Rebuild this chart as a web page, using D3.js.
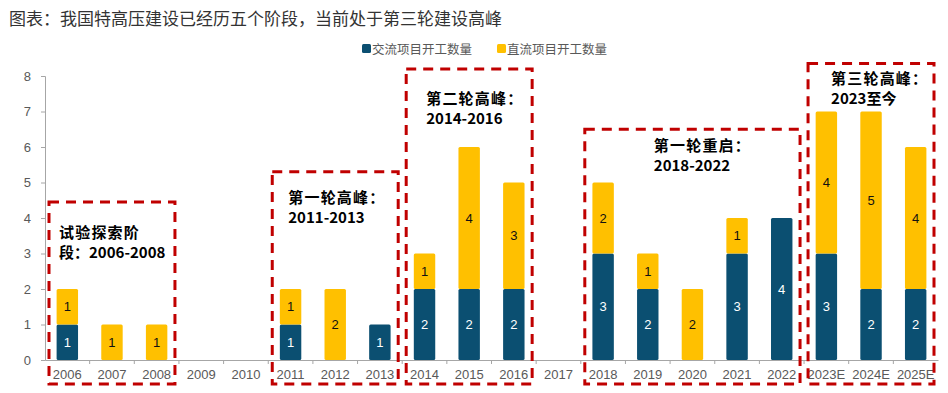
<!DOCTYPE html>
<html>
<head>
<meta charset="utf-8">
<script src="https://cdn.jsdelivr.net/npm/d3@7"></script>
<style>
    body { margin: 0; background: #fff; font-family: "Noto Sans CJK SC", "Liberation Sans", sans-serif; }
    #chart-area { width: 948px; height: 393px; }
</style>
</head>
<body>
<div id="chart-area"></div>
<script>
// data
let years = ["2006", "2007", "2008", "2009", "2010", "2011", "2012", "2013", "2014", "2015",
    "2016", "2017", "2018", "2019", "2020", "2021", "2022", "2023E", "2024E", "2025E"];
let acProjects = [1, 0, 0, 0, 0, 1, 0, 1, 2, 2, 2, 0, 3, 2, 0, 3, 4, 3, 2, 2];
let dcProjects = [1, 1, 1, 0, 0, 1, 2, 0, 1, 4, 3, 0, 2, 1, 2, 1, 0, 4, 5, 4];
let seriesNames = ["交流项目开工数量", "直流项目开工数量"];
let yTicks = [0, 1, 2, 3, 4, 5, 6, 7, 8];

// phases: first/last year covered by the dashed box, top of the box (in y units), text lines
let phaseStart = ["2006", "2011", "2014", "2018", "2023E"];
let phaseEnd = ["2008", "2013", "2016", "2022", "2025E"];
let phaseTop = [4.45, 5.3, 8.2, 6.5, 8.35];
let phaseText = [
    ["试验探索阶", "段：2006-2008"],
    ["第一轮高峰：", "2011-2013"],
    ["第二轮高峰：", "2014-2016"],
    ["第一轮重启：", "2018-2022"],
    ["第三轮高峰：", "2023至今"]
];

class PhaseBarVis {
    constructor(_parentElement) {
        this.parentElement = _parentElement;
        this.initVis();
    }

    initVis() {
        let vis = this;

        vis.margin = { top: 76, right: 10, bottom: 33, left: 45 };
        vis.width = 938 - vis.margin.left;
        vis.height = 360 - vis.margin.top;

        vis.svg = d3.select("#" + vis.parentElement).append("svg")
            .attr("width", 948)
            .attr("height", 393);

        // title
        vis.svg.append("text")
            .attr("x", 9)
            .attr("y", 25)
            .attr("font-size", 17)
            .attr("fill", "#333")
            .text("图表：我国特高压建设已经历五个阶段，当前处于第三轮建设高峰");

        vis.g = vis.svg.append("g")
            .attr("transform", "translate(" + vis.margin.left + "," + vis.margin.top + ")");

        vis.x = d3.scaleBand().domain(years).range([0, vis.width]).paddingInner(0.52).paddingOuter(0.26);
        vis.y = d3.scaleLinear().domain([0, 8]).range([vis.height, 0]);
        vis.color = d3.scaleOrdinal().domain(seriesNames).range(["#0B4F71", "#FFC000"]);

        vis.wrangleData();
    }

    wrangleData() {
        let vis = this;

        vis.displayData = years.map((yr, i) => ({ year: yr, ac: acProjects[i], dc: dcProjects[i] }));
        vis.stacked = d3.stack().keys(["ac", "dc"])(vis.displayData);

        vis.updateVis();
    }

    updateVis() {
        let vis = this;
        let step = vis.x.step();
        let grey = "#595959";

        // y axis
        let yAxis = vis.g.append("g")
            .call(d3.axisLeft(vis.y).tickValues(yTicks).tickSize(4).tickPadding(10));
        yAxis.select(".domain").attr("stroke", "#a6a6a6");
        yAxis.selectAll(".tick line").attr("stroke", "#a6a6a6");
        yAxis.selectAll("text").attr("font-size", 13).attr("fill", grey)
            .attr("font-family", "Liberation Sans, Arial, sans-serif");

        // x axis with ticks on the category boundaries
        let xAxis = vis.g.append("g")
            .attr("transform", "translate(0," + vis.height + ")")
            .call(d3.axisBottom(vis.x).tickSize(0).tickPadding(10));
        xAxis.select(".domain").attr("stroke", "#a6a6a6");
        xAxis.selectAll("text").attr("font-size", 13).attr("fill", grey)
            .attr("font-family", "Liberation Sans, Arial, sans-serif");
        xAxis.selectAll(".bound")
            .data(years.slice(1))
            .enter().append("line")
            .attr("x1", d => vis.x(d) - (step - vis.x.bandwidth()) / 2)
            .attr("x2", d => vis.x(d) - (step - vis.x.bandwidth()) / 2)
            .attr("y1", 0).attr("y2", 4)
            .attr("stroke", "#a6a6a6");

        // stacked bars
        let layers = vis.g.selectAll(".layer")
            .data(vis.stacked)
            .enter().append("g")
            .attr("class", "layer")
            .attr("fill", (d, i) => vis.color(seriesNames[i]));

        layers.selectAll("rect")
            .data(d => d.filter(s => s[1] > s[0]))
            .enter().append("rect")
            .attr("x", d => vis.x(d.data.year))
            .attr("y", d => vis.y(d[1]))
            .attr("width", vis.x.bandwidth())
            .attr("height", d => vis.y(d[0]) - vis.y(d[1]))
            .attr("rx", 1.5);

        layers.selectAll(".val")
            .data((d, i) => d.filter(s => s[1] > s[0]).map(s => ({ s: s, idx: i })))
            .enter().append("text")
            .attr("x", d => vis.x(d.s.data.year) + vis.x.bandwidth() / 2)
            .attr("y", d => vis.y((d.s[0] + d.s[1]) / 2))
            .attr("dy", "0.36em")
            .attr("text-anchor", "middle")
            .attr("font-size", 13)
            .attr("font-family", "Liberation Sans, Arial, sans-serif")
            .attr("fill", d => d.idx === 0 ? "#fff" : "#111")
            .text(d => d.s[1] - d.s[0]);

        // dashed phase boxes
        let boxes = phaseStart.map((s, i) => ({
            x0: vis.x(s) - (step - vis.x.bandwidth()) / 2 + 4,
            x1: vis.x(phaseEnd[i]) + vis.x.bandwidth() + (step - vis.x.bandwidth()) / 2 - 4,
            top: phaseTop[i],
            lines: phaseText[i]
        }));

        vis.g.selectAll(".phase")
            .data(boxes)
            .enter().append("rect")
            .attr("class", "phase")
            .attr("x", d => d.x0)
            .attr("y", d => vis.y(d.top))
            .attr("width", d => d.x1 - d.x0)
            .attr("height", d => vis.height + 24 - vis.y(d.top))
            .attr("fill", "none")
            .attr("stroke", "#C00000")
            .attr("stroke-width", 3)
            .attr("stroke-dasharray", "10,7");

        // phase labels (only the first line is spaced out, as in the original)
        let textOffsets = [[10, 36], [16, 31], [20, 35], [69, 22], [23, 20]];
        vis.g.selectAll(".phase-label")
            .data(boxes)
            .enter().append("text")
            .attr("class", "phase-label")
            .attr("font-size", 15)
            .attr("font-weight", "bold")
            .attr("fill", "#000")
            .each(function (d, i) {
                d3.select(this).selectAll("tspan")
                    .data(d.lines)
                    .enter().append("tspan")
                    .attr("x", d.x0 + textOffsets[i][0])
                    .attr("y", (t, j) => vis.y(d.top) + textOffsets[i][1] + j * 20)
                    .attr("letter-spacing", (t, j) => j === 0 ? 1.2 : 0)
                    .text(t => t);
            });

        // legend
        let legend = vis.svg.append("g")
            .attr("transform", "translate(362,44)");
        let items = legend.selectAll(".item")
            .data(seriesNames)
            .enter().append("g")
            .attr("transform", (d, i) => "translate(" + i * 135 + ",0)");
        items.append("rect")
            .attr("width", 9).attr("height", 9).attr("rx", 1.5)
            .attr("fill", d => vis.color(d));
        items.append("text")
            .attr("x", 10).attr("y", 9.5)
            .attr("font-size", 12.5)
            .attr("fill", grey)
            .text(d => d);
    }
}

let phaseBarVis = new PhaseBarVis("chart-area");
</script>
</body>
</html>
